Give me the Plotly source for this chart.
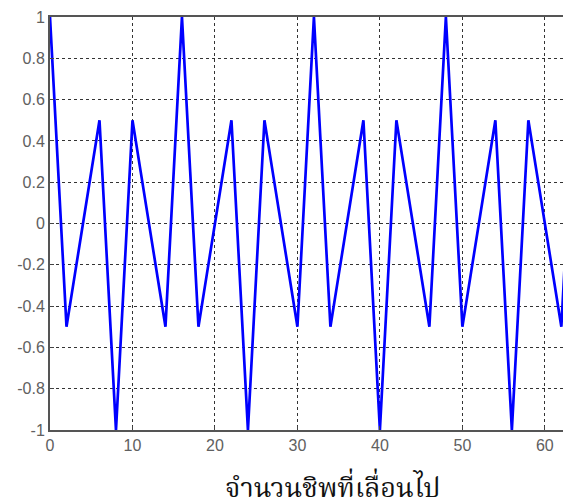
import plotly.graph_objects as go

# One period (16 chips) of the correlation sequence, repeated
period_values = [1, 0.25, -0.5, -0.25, 0, 0.25, 0.5, -0.25,
                 -1, -0.25, 0.5, 0.25, 0, -0.25, -0.5, 0.25]
shift = list(range(0, 64))
corr = [period_values[k % 16] for k in shift]

x_ticks = [0, 10, 20, 30, 40, 50, 60]
y_ticks = [1, 0.8, 0.6, 0.4, 0.2, 0, -0.2, -0.4, -0.6, -0.8, -1]
y_tick_labels = ["1", "0.8", "0.6", "0.4", "0.2", "0", "-0.2", "-0.4", "-0.6", "-0.8", "-1"]
x_title = "จำนวนชิพที่เลื่อนไป"

fig = go.Figure()
fig.add_trace(go.Scatter(x=shift, y=corr, mode="lines",
                         line=dict(color="#0000ff", width=2.7),
                         hoverinfo="skip", showlegend=False))

fig.update_layout(
    width=563, height=502,
    margin=dict(l=50, r=0, t=17, b=72),
    paper_bgcolor="white", plot_bgcolor="white",
    font=dict(family="Arial, Liberation Sans, sans-serif", size=16, color="#606060"),
    annotations=[dict(text=x_title, xref="paper", yref="paper", x=0.55, y=0,
                      yshift=-55, yanchor="middle", xanchor="center", showarrow=False,
                      font=dict(family="Liberation Serif, Noto Serif Thai, serif", size=27, color="#111111"))],
)
fig.update_xaxes(range=[0, 62.2], tickvals=x_ticks, ticks="inside", ticklen=4,
                 tickcolor="#444444", showline=True, linecolor="#555555", linewidth=2,
                 mirror=True, showgrid=True, gridcolor="#333333", gridwidth=1.3,
                 griddash="3px,3px", zeroline=False, fixedrange=True)
fig.update_yaxes(range=[-1, 1], tickvals=y_ticks, ticktext=y_tick_labels, ticks="inside",
                 ticklen=4, tickcolor="#444444", showline=True, linecolor="#555555",
                 linewidth=2, mirror=False, showgrid=True, gridcolor="#333333",
                 gridwidth=1.3, griddash="3px,3px", zeroline=False, fixedrange=True)

fig.write_html("out.html")
